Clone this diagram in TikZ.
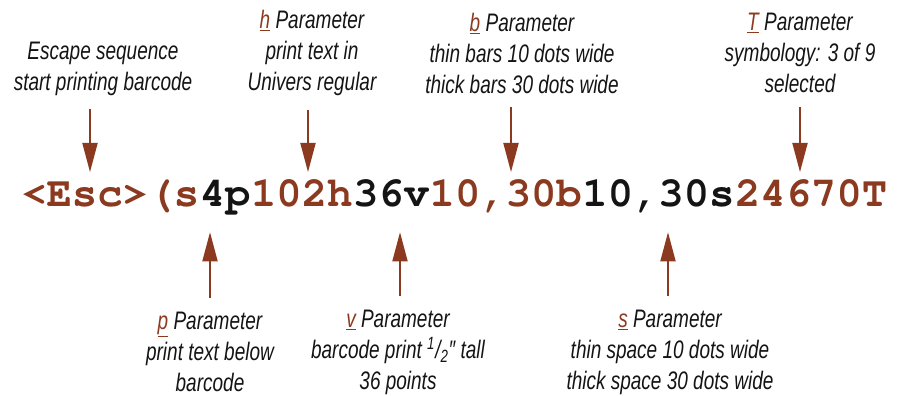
\documentclass[tikz,border=0pt]{standalone}
\usepackage{fontspec}
\usetikzlibrary{positioning,arrows.meta}
\setmainfont{Liberation Sans}[FakeStretch=0.75]
\definecolor{brn}{RGB}{139,58,32}
\definecolor{ink}{RGB}{20,20,20}
\newcommand\prm[1]{{\color{brn}\underline{#1}}}
\newcommand\codefont{\fontencoding{T1}\fontfamily{pcr}\fontseries{b}\fontsize{31.7}{32}\selectfont}

\begin{document}
\begin{tikzpicture}[x=0.75pt,y=0.75pt,
  lbl/.style={align=center,text=ink,font=\fontsize{19}{23.25}\selectfont\itshape},
  seg/.style={inner sep=0pt,font=\codefont},
  arr/.style={draw=brn,line width=2.2pt,-{Triangle[length=22pt,width=11pt]}},
  down/.style={arr,shorten <=7pt,shorten >=26pt},
  up/.style={arr,shorten <=7pt,shorten >=18.75pt}]

\useasboundingbox (0,0) rectangle (903,396);

% the command string
\node[seg,text=brn,anchor=base west] (esc) at (21,189) {<Esc>};
\node[seg,text=brn,base right=0pt of esc]  (open)  {(s};
\node[seg,text=ink,base right=0pt of open] (pp)    {4p};
\node[seg,text=brn,base right=0pt of pp]   (hh)    {102h};
\node[seg,text=ink,base right=0pt of hh]   (vv)    {36v};
\node[seg,text=brn,base right=0pt of vv]   (bb)    {10,30b};
\node[seg,text=ink,base right=0pt of bb]   (ss)    {10,30s};
\node[seg,text=brn,base right=0pt of ss]   (tt)    {24670T};

% labels above
\node[lbl] (esclbl) at (103,327.5) {Escape sequence\\start printing barcode};
\node[lbl] (hlbl) at (312,343) {\prm{h} Parameter\\print text in\\Univers regular};
\node[lbl] (blbl) at (522,343) {\prm{b} Parameter\\thin bars 10 dots wide\\thick bars 30 dots wide};
\node[lbl] (tlbl) at (800,343) {\prm{T} Parameter\\symbology: 3 of 9\\selected};

% labels below
\node[lbl] (plbl) at (210,44) {\prm{p} Parameter\\print text below\\barcode};
\node[lbl] (vlbl) at (398,44) {\prm{v} Parameter\\barcode print \textsuperscript{1}/\textsubscript{2}″ tall\\36 points};
\node[lbl] (slbl) at (670,44) {\prm{s} Parameter\\thin space 10 dots wide\\thick space 30 dots wide};

% arrows
\draw[down] ([xshift=-9.75pt]esclbl.south) -- ([xshift=-9.75pt]esclbl.south |- esc.base);
\draw[down] ([xshift=-3pt]hlbl.south) -- ([xshift=-3pt]hlbl.south |- hh.base);
\draw[down] ([xshift=-8.25pt]blbl.south) -- ([xshift=-8.25pt]blbl.south |- bb.base);
\draw[down] (tlbl.south) -- (tlbl.south |- tt.base);

\draw[up] (plbl.north) -- (plbl.north |- pp.base);
\draw[up] ([xshift=1.5pt]vlbl.north) -- ([xshift=1.5pt]vlbl.north |- vv.base);
\draw[up] ([xshift=-1.5pt]slbl.north) -- ([xshift=-1.5pt]slbl.north |- ss.base);

\end{tikzpicture}
\end{document}
